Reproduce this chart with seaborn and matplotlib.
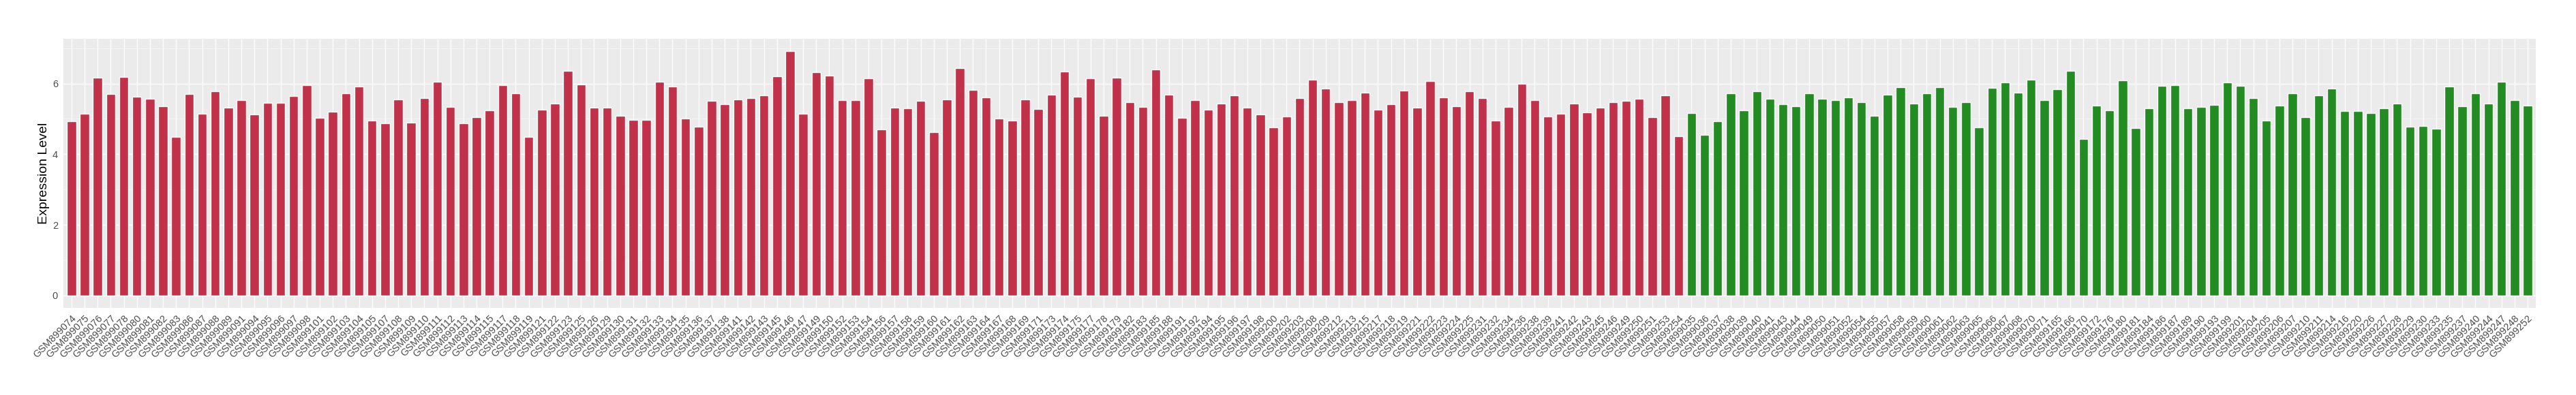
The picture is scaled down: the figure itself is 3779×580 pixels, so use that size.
import pandas as pd
import matplotlib.pyplot as plt
import seaborn as sns
from matplotlib.ticker import MultipleLocator

sns.set_theme(style="darkgrid")
plt.rcParams['font.family'] = ['Liberation Sans', 'DejaVu Sans']

# sample ids (suffix after GSM899) and expression
case_ids = ['074', '075', '076', '077', '078', '080', '081', '082', '083', '086',
            '087', '088', '089', '091', '094', '095', '096', '097', '098', '101',
            '102', '103', '104', '105', '107', '108', '109', '110', '111', '112',
            '113', '114', '115', '117', '118', '119', '121', '122', '123', '125',
            '126', '129', '130', '131', '132', '133', '134', '135', '136', '137',
            '138', '141', '142', '143', '145', '146', '147', '149', '150', '152',
            '153', '154', '156', '157', '158', '159', '160', '161', '162', '163',
            '164', '167', '168', '169', '171', '173', '174', '175', '177', '178',
            '179', '182', '183', '185', '188', '191', '192', '194', '195', '196',
            '197', '198', '200', '202', '203', '208', '209', '212', '213', '215',
            '217', '218', '219', '221', '222', '223', '224', '225', '231', '232',
            '234', '236', '238', '239', '241', '242', '243', '245', '246', '249',
            '250', '251', '253', '254']
case_vals = [4.94, 5.15, 6.17, 5.71, 6.19, 5.63, 5.57, 5.36, 4.49, 5.71,
             5.15, 5.77, 5.32, 5.53, 5.13, 5.46, 5.46, 5.65, 5.96, 5.03,
             5.21, 5.73, 5.92, 4.95, 4.88, 5.55, 4.90, 5.59, 6.04, 5.34,
             4.88, 5.05, 5.24, 5.96, 5.73, 4.49, 5.26, 5.44, 6.36, 5.98,
             5.32, 5.32, 5.09, 4.97, 4.97, 6.05, 5.92, 5.01, 4.78, 5.50,
             5.42, 5.55, 5.59, 5.67, 6.21, 6.92, 5.15, 6.31, 6.23, 5.53,
             5.53, 6.15, 4.70, 5.32, 5.30, 5.51, 4.63, 5.55, 6.44, 5.82,
             5.61, 5.01, 4.95, 5.55, 5.28, 5.69, 6.34, 5.63, 6.15, 5.09,
             6.17, 5.48, 5.34, 6.40, 5.69, 5.03, 5.53, 5.26, 5.44, 5.67,
             5.32, 5.13, 4.76, 5.07, 5.59, 6.11, 5.86, 5.48, 5.53, 5.75,
             5.26, 5.42, 5.80, 5.32, 6.07, 5.61, 5.36, 5.78, 5.59, 4.95,
             5.34, 6.00, 5.53, 5.07, 5.15, 5.44, 5.19, 5.32, 5.48, 5.50,
             5.57, 5.05, 5.67, 4.51]

ctrl_ids = ['035', '036', '037', '038', '039', '040', '041', '043', '044', '049',
            '050', '051', '052', '054', '055', '057', '058', '059', '060', '061',
            '062', '063', '065', '066', '067', '068', '070', '071', '165', '166',
            '170', '172', '176', '180', '181', '184', '186', '187', '189', '190',
            '193', '199', '201', '204', '205', '206', '207', '210', '211', '214',
            '216', '220', '226', '227', '228', '229', '230', '233', '235', '237',
            '240', '244', '247', '248', '252']
ctrl_vals = [5.17, 4.55, 4.94, 5.73, 5.24, 5.78, 5.57, 5.42, 5.36, 5.73,
             5.57, 5.53, 5.61, 5.48, 5.09, 5.69, 5.90, 5.44, 5.73, 5.90,
             5.34, 5.48, 4.76, 5.88, 6.02, 5.75, 6.11, 5.53, 5.84, 6.36,
             4.43, 5.38, 5.24, 6.09, 4.74, 5.30, 5.94, 5.96, 5.30, 5.34,
             5.40, 6.02, 5.94, 5.59, 4.95, 5.38, 5.73, 5.05, 5.67, 5.86,
             5.22, 5.22, 5.17, 5.30, 5.44, 4.78, 4.80, 4.72, 5.92, 5.36,
             5.73, 5.44, 6.05, 5.53, 5.38]

colors = {'case': '#C1314A', 'control': '#228B22'}

df = pd.DataFrame({
    'sample': ['GSM899' + s for s in case_ids + ctrl_ids],
    'value': case_vals + ctrl_vals,
    'group': ['case'] * len(case_ids) + ['control'] * len(ctrl_ids),
})

fig = plt.figure(figsize=(37.8, 5.8), dpi=100)
ax = fig.add_axes([0.0247, 0.221, 0.9593, 0.681])
ax.set_facecolor('#EBEBEB')

sns.barplot(data=df, x='sample', y='value', hue='group', palette=colors,
            width=0.7, dodge=False, legend=False, saturation=1, ax=ax, zorder=3)

n = len(df)
top = df['value'].max()
ax.set_xlim(-0.6, n - 1 + 0.6)
ax.set_ylim(-0.05 * top, 1.05 * top)
ax.yaxis.set_major_locator(MultipleLocator(2))
ax.yaxis.set_minor_locator(MultipleLocator(1))

ax.grid(which='major', color='white', linewidth=1.0, zorder=0)
ax.grid(which='minor', axis='y', color='white', linewidth=0.5, alpha=0.7, zorder=0)
ax.set_axisbelow(True)
for s in ax.spines.values():
    s.set_visible(False)

ax.tick_params(axis='both', which='major', length=4, width=0.8, color='#333333',
               labelsize=10.5, labelcolor='#4D4D4D', pad=2)
ax.tick_params(axis='y', which='minor', length=0)
plt.setp(ax.get_xticklabels(), rotation=45, ha='right', va='top',
         rotation_mode='anchor')

ax.set_xlabel('')
ax.set_ylabel('Expression Level', fontsize=14, color='black', labelpad=3)

fig.savefig('out.png', dpi=100)
